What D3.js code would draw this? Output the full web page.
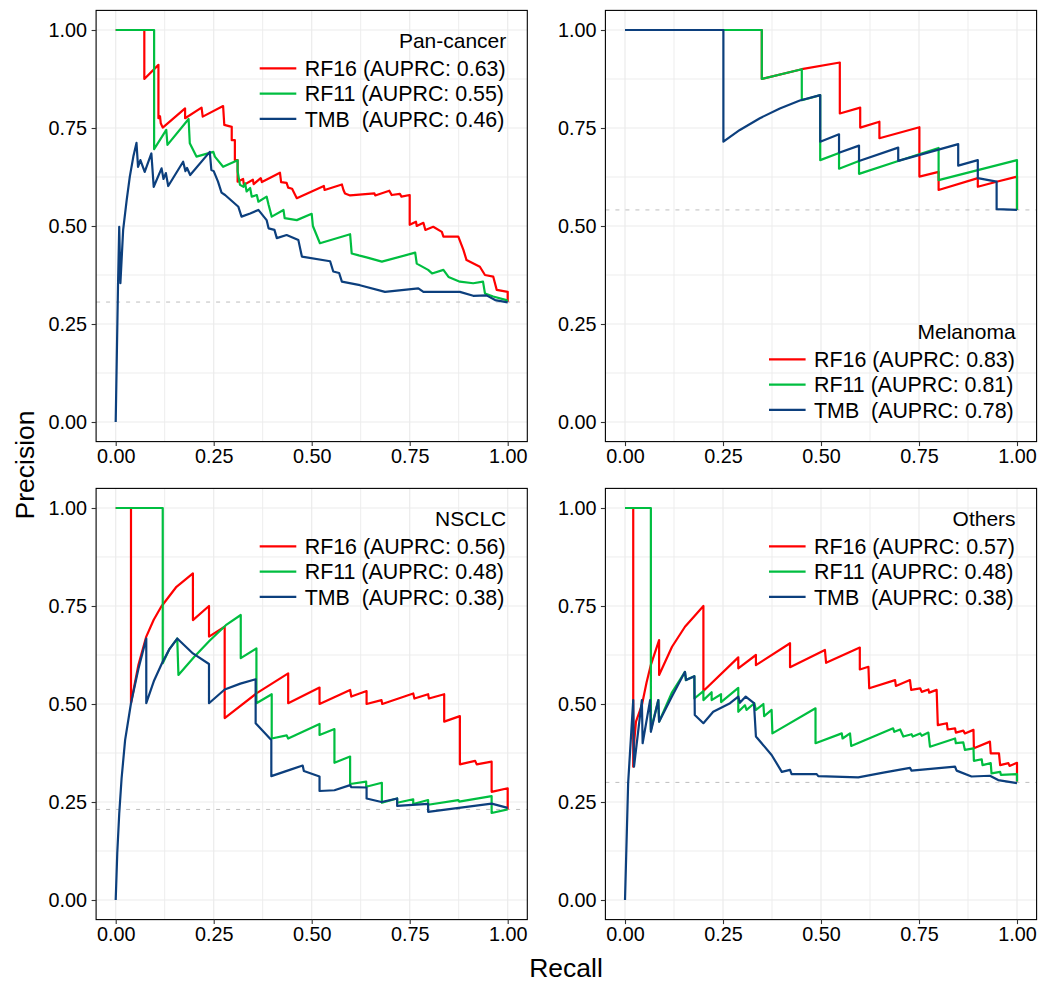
<!DOCTYPE html>
<html>
<head>
<meta charset="utf-8">
<script src="https://cdn.jsdelivr.net/npm/d3@7"></script>
<style>
body { margin: 0; background: #fff; }
svg text { font-family: "Liberation Sans", Arial, Helvetica, sans-serif; }
</style>
</head>
<body>
<div id="chart"></div>
<script>
// precision-recall curves, [recall, precision]

// Pan-cancer
var panCancerRF16 = [[0,1],[0.073,1],[0.073,0.875],[0.109,0.911],[0.109,0.775],[0.113,0.78],[0.115,0.762],[0.12,0.751],[0.177,0.80],[0.177,0.775],[0.219,0.802],[0.222,0.779],[0.274,0.806],[0.277,0.758],[0.296,0.753],[0.296,0.719],[0.304,0.719],[0.304,0.668],[0.311,0.668],[0.311,0.613],[0.325,0.62],[0.327,0.605],[0.35,0.618],[0.352,0.607],[0.37,0.622],[0.373,0.612],[0.419,0.636],[0.422,0.612],[0.436,0.61],[0.44,0.598],[0.45,0.595],[0.455,0.585],[0.462,0.571],[0.531,0.602],[0.533,0.592],[0.577,0.606],[0.581,0.592],[0.585,0.583],[0.598,0.578],[0.66,0.583],[0.662,0.578],[0.698,0.59],[0.704,0.579],[0.725,0.582],[0.729,0.575],[0.75,0.579],[0.75,0.503],[0.766,0.511],[0.768,0.50],[0.785,0.508],[0.79,0.49],[0.81,0.498],[0.832,0.485],[0.836,0.473],[0.874,0.473],[0.887,0.439],[0.895,0.413],[0.929,0.396],[0.942,0.375],[0.963,0.371],[0.972,0.337],[1,0.332],[1,0.307]];
var panCancerRF11 = [[0,1],[0.098,1],[0.098,0.696],[0.129,0.745],[0.132,0.707],[0.186,0.773],[0.189,0.711],[0.206,0.677],[0.249,0.689],[0.253,0.677],[0.274,0.651],[0.311,0.668],[0.311,0.64],[0.317,0.605],[0.326,0.6],[0.33,0.609],[0.334,0.588],[0.343,0.597],[0.347,0.575],[0.36,0.579],[0.364,0.562],[0.385,0.575],[0.39,0.554],[0.398,0.524],[0.428,0.541],[0.431,0.52],[0.462,0.515],[0.5,0.531],[0.503,0.50],[0.521,0.456],[0.598,0.479],[0.602,0.43],[0.62,0.425],[0.64,0.42],[0.679,0.409],[0.764,0.432],[0.768,0.404],[0.797,0.388],[0.807,0.379],[0.836,0.388],[0.849,0.37],[0.878,0.358],[0.912,0.354],[0.937,0.358],[0.942,0.328],[0.963,0.32],[0.997,0.311],[1,0.307]];
var panCancerTMB = [[0,0],[0.006,0.354],[0.009,0.498],[0.012,0.354],[0.019,0.49],[0.028,0.566],[0.036,0.626],[0.045,0.677],[0.053,0.712],[0.057,0.651],[0.063,0.668],[0.074,0.638],[0.091,0.685],[0.097,0.60],[0.117,0.647],[0.122,0.62],[0.128,0.635],[0.134,0.602],[0.172,0.664],[0.178,0.64],[0.182,0.648],[0.19,0.63],[0.24,0.689],[0.244,0.643],[0.25,0.64],[0.261,0.613],[0.27,0.585],[0.279,0.579],[0.313,0.549],[0.321,0.524],[0.343,0.532],[0.364,0.541],[0.385,0.515],[0.39,0.494],[0.405,0.49],[0.411,0.469],[0.436,0.477],[0.466,0.464],[0.475,0.422],[0.547,0.41],[0.555,0.384],[0.57,0.38],[0.577,0.358],[0.623,0.349],[0.687,0.332],[0.772,0.341],[0.785,0.332],[0.878,0.332],[0.912,0.322],[0.946,0.323],[0.968,0.311],[1,0.305]];
var panCancerAUPRC = ["0.63", "0.55", "0.46"];
var panCancerBaseline = 0.306;

// Melanoma
var melanomaRF16 = [[0,1],[0.349,1],[0.349,0.875],[0.451,0.9],[0.548,0.917],[0.548,0.787],[0.6,0.802],[0.6,0.751],[0.649,0.766],[0.649,0.724],[0.751,0.752],[0.751,0.626],[0.8,0.638],[0.8,0.592],[0.9,0.622],[0.9,0.6],[0.948,0.613],[1,0.626],[1,0.541]];
var melanomaRF11 = [[0,1],[0.349,1],[0.349,0.875],[0.451,0.9],[0.451,0.821],[0.47,0.826],[0.498,0.834],[0.498,0.668],[0.546,0.686],[0.546,0.646],[0.597,0.666],[0.597,0.633],[0.697,0.666],[0.8,0.699],[0.8,0.617],[1,0.668],[1,0.541]];
var melanomaTMB = [[0,1],[0.251,1],[0.251,0.715],[0.293,0.745],[0.344,0.775],[0.395,0.80],[0.446,0.82],[0.498,0.834],[0.498,0.715],[0.546,0.734],[0.546,0.687],[0.597,0.705],[0.597,0.666],[0.697,0.70],[0.697,0.666],[0.85,0.709],[0.85,0.654],[0.9,0.668],[0.9,0.622],[0.948,0.613],[0.948,0.543],[1,0.541]];
var melanomaAUPRC = ["0.83", "0.81", "0.78"];
var melanomaBaseline = 0.541;

// NSCLC
var nsclcRF16 = [[0,1],[0.039,1],[0.039,0.502],[0.058,0.60],[0.078,0.672],[0.097,0.715],[0.116,0.748],[0.155,0.799],[0.197,0.833],[0.197,0.714],[0.238,0.75],[0.238,0.672],[0.278,0.697],[0.278,0.464],[0.359,0.527],[0.44,0.578],[0.44,0.502],[0.52,0.542],[0.52,0.50],[0.598,0.536],[0.601,0.519],[0.64,0.533],[0.64,0.50],[0.678,0.51],[0.68,0.50],[0.759,0.527],[0.762,0.514],[0.797,0.525],[0.799,0.514],[0.838,0.525],[0.838,0.455],[0.878,0.469],[0.878,0.346],[0.917,0.355],[0.921,0.346],[0.959,0.353],[0.959,0.276],[1,0.285],[1,0.231]];
var nsclcRF11 = [[0,1],[0.12,1],[0.12,0.604],[0.137,0.64],[0.157,0.667],[0.16,0.574],[0.2,0.62],[0.24,0.662],[0.281,0.701],[0.319,0.727],[0.319,0.617],[0.359,0.642],[0.359,0.502],[0.398,0.525],[0.398,0.412],[0.436,0.42],[0.44,0.412],[0.52,0.449],[0.52,0.421],[0.558,0.436],[0.558,0.35],[0.598,0.366],[0.598,0.296],[0.639,0.302],[0.639,0.289],[0.679,0.299],[0.679,0.248],[0.718,0.259],[0.718,0.248],[0.759,0.257],[0.759,0.245],[0.797,0.255],[0.797,0.243],[0.874,0.255],[0.876,0.251],[0.959,0.265],[0.959,0.222],[1,0.231]];
var nsclcTMB = [[0,0],[0.004,0.12],[0.009,0.22],[0.015,0.31],[0.024,0.408],[0.039,0.502],[0.058,0.59],[0.078,0.667],[0.078,0.502],[0.098,0.56],[0.118,0.604],[0.137,0.64],[0.157,0.667],[0.197,0.629],[0.238,0.602],[0.238,0.502],[0.278,0.537],[0.318,0.552],[0.357,0.563],[0.357,0.451],[0.397,0.408],[0.397,0.316],[0.444,0.332],[0.477,0.343],[0.48,0.329],[0.52,0.315],[0.52,0.278],[0.558,0.28],[0.598,0.293],[0.601,0.288],[0.64,0.287],[0.64,0.259],[0.678,0.25],[0.718,0.259],[0.718,0.24],[0.797,0.245],[0.797,0.225],[0.959,0.246],[1,0.235]];
var nsclcAUPRC = ["0.56", "0.48", "0.38"];
var nsclcBaseline = 0.231;

// Others
var othersRF16 = [[0,1],[0.021,1],[0.021,0.34],[0.024,0.41],[0.028,0.455],[0.043,0.497],[0.055,0.555],[0.066,0.60],[0.087,0.663],[0.087,0.574],[0.12,0.646],[0.153,0.697],[0.178,0.725],[0.2,0.75],[0.2,0.533],[0.289,0.619],[0.289,0.591],[0.334,0.625],[0.334,0.599],[0.421,0.655],[0.421,0.594],[0.51,0.638],[0.513,0.605],[0.599,0.644],[0.599,0.588],[0.621,0.595],[0.623,0.54],[0.689,0.561],[0.691,0.546],[0.727,0.561],[0.73,0.536],[0.753,0.54],[0.757,0.531],[0.774,0.537],[0.776,0.529],[0.795,0.536],[0.798,0.446],[0.821,0.451],[0.823,0.435],[0.842,0.438],[0.844,0.427],[0.863,0.432],[0.867,0.425],[0.889,0.434],[0.89,0.387],[0.931,0.404],[0.933,0.374],[0.954,0.374],[0.957,0.344],[0.978,0.349],[0.981,0.342],[1,0.35],[1,0.302]];
var othersRF11 = [[0,1],[0.066,1],[0.066,0.434],[0.085,0.51],[0.087,0.455],[0.12,0.53],[0.153,0.582],[0.155,0.561],[0.177,0.571],[0.177,0.514],[0.2,0.533],[0.2,0.51],[0.221,0.53],[0.221,0.51],[0.245,0.525],[0.245,0.505],[0.289,0.541],[0.289,0.48],[0.306,0.497],[0.31,0.485],[0.33,0.502],[0.334,0.485],[0.353,0.50],[0.355,0.469],[0.374,0.485],[0.376,0.425],[0.486,0.489],[0.486,0.40],[0.553,0.425],[0.555,0.412],[0.574,0.425],[0.577,0.393],[0.684,0.438],[0.687,0.429],[0.702,0.435],[0.71,0.417],[0.731,0.423],[0.734,0.417],[0.753,0.425],[0.757,0.419],[0.774,0.427],[0.778,0.391],[0.842,0.412],[0.844,0.40],[0.863,0.402],[0.867,0.383],[0.889,0.387],[0.89,0.355],[0.91,0.359],[0.912,0.344],[0.933,0.349],[0.935,0.323],[0.957,0.327],[0.959,0.319],[1,0.321],[1,0.302]];
var othersTMB = [[0,0],[0.008,0.298],[0.021,0.51],[0.023,0.34],[0.043,0.51],[0.045,0.40],[0.064,0.51],[0.066,0.429],[0.085,0.51],[0.087,0.455],[0.12,0.52],[0.153,0.582],[0.156,0.561],[0.177,0.571],[0.178,0.472],[0.2,0.451],[0.225,0.48],[0.268,0.502],[0.289,0.519],[0.293,0.503],[0.308,0.519],[0.329,0.502],[0.334,0.417],[0.374,0.37],[0.40,0.327],[0.421,0.332],[0.425,0.321],[0.489,0.321],[0.493,0.316],[0.595,0.313],[0.659,0.325],[0.727,0.337],[0.731,0.33],[0.842,0.34],[0.846,0.33],[0.884,0.315],[0.931,0.317],[0.952,0.306],[1,0.298]];
var othersAUPRC = ["0.57", "0.48", "0.38"];
var othersBaseline = 0.30;

var seriesNames = ["RF16", "RF11", "TMB "];
var seriesColors = ["#FF0000", "#00BE40", "#0C3F7D"];
var tickValues = [0, 0.25, 0.5, 0.75, 1];
var minorValues = [0.125, 0.375, 0.625, 0.875];

var panels = [
    {title: "Pan-cancer", series: [panCancerRF16, panCancerRF11, panCancerTMB], auprc: panCancerAUPRC, baseline: panCancerBaseline, legend: "top", x: 96.1, y: 10.4},
    {title: "Melanoma", series: [melanomaRF16, melanomaRF11, melanomaTMB], auprc: melanomaAUPRC, baseline: melanomaBaseline, legend: "bottom", x: 605.4, y: 10.4},
    {title: "NSCLC", series: [nsclcRF16, nsclcRF11, nsclcTMB], auprc: nsclcAUPRC, baseline: nsclcBaseline, legend: "top", x: 96.1, y: 488.4},
    {title: "Others", series: [othersRF16, othersRF11, othersTMB], auprc: othersAUPRC, baseline: othersBaseline, legend: "top", x: 605.4, y: 488.4}
];

var svgWidth = 1043;
var svgHeight = 983;
var panelSize = 431.2;

var svg = d3.select("#chart").append("svg")
    .attr("width", svgWidth)
    .attr("height", svgHeight)
    .style("display", "block");

svg.append("rect").attr("width", svgWidth).attr("height", svgHeight).attr("fill", "#fff");

// ggplot style: 5% expansion on both sides
var xScale = d3.scaleLinear().domain([-0.05, 1.05]).range([0, panelSize]);
var yScale = d3.scaleLinear().domain([-0.05, 1.05]).range([panelSize, 0]);

var line = d3.line()
    .x(d => xScale(d[0]))
    .y(d => yScale(d[1]));

panels.forEach(function(p) {
    var g = svg.append("g").attr("transform", `translate(${p.x}, ${p.y})`);

    // grid lines
    g.selectAll(".vminor").data(minorValues).enter().append("line")
        .attr("x1", d => xScale(d)).attr("x2", d => xScale(d))
        .attr("y1", 0).attr("y2", panelSize)
        .attr("stroke", "#EBEBEB").attr("stroke-width", 0.9);
    g.selectAll(".hminor").data(minorValues).enter().append("line")
        .attr("y1", d => yScale(d)).attr("y2", d => yScale(d))
        .attr("x1", 0).attr("x2", panelSize)
        .attr("stroke", "#EBEBEB").attr("stroke-width", 0.9);
    g.selectAll(".vmajor").data(tickValues).enter().append("line")
        .attr("x1", d => xScale(d)).attr("x2", d => xScale(d))
        .attr("y1", 0).attr("y2", panelSize)
        .attr("stroke", "#EBEBEB").attr("stroke-width", 1.2);
    g.selectAll(".hmajor").data(tickValues).enter().append("line")
        .attr("y1", d => yScale(d)).attr("y2", d => yScale(d))
        .attr("x1", 0).attr("x2", panelSize)
        .attr("stroke", "#EBEBEB").attr("stroke-width", 1.2);

    // no-skill baseline
    g.append("line")
        .attr("x1", 0).attr("x2", panelSize)
        .attr("y1", yScale(p.baseline)).attr("y2", yScale(p.baseline))
        .attr("stroke", "#BDBDBD").attr("stroke-width", 1)
        .attr("stroke-dasharray", "4,6");

    // curves: RF16, RF11 then TMB on top
    p.series.forEach(function(s, i) {
        g.append("path")
            .datum(s)
            .attr("d", line)
            .attr("fill", "none")
            .attr("stroke", seriesColors[i])
            .attr("stroke-width", 2.2)
            .attr("stroke-linejoin", "round");
    });

    // panel border
    g.append("rect")
        .attr("width", panelSize).attr("height", panelSize)
        .attr("fill", "none").attr("stroke", "#000").attr("stroke-width", 1.1);

    // axes
    var xAxis = d3.axisBottom(xScale).tickValues(tickValues).tickFormat(d3.format(".2f")).tickSize(4.5).tickPadding(3);
    var yAxis = d3.axisLeft(yScale).tickValues(tickValues).tickFormat(d3.format(".2f")).tickSize(4.5).tickPadding(4.5);

    var xg = g.append("g").attr("transform", `translate(0, ${panelSize})`).call(xAxis);
    var yg = g.append("g").call(yAxis);
    [xg, yg].forEach(function(a) {
        a.select(".domain").remove();
        a.selectAll(".tick line").attr("stroke", "#333").attr("stroke-width", 1.1);
        a.selectAll(".tick text")
            .attr("fill", "#000")
            .style("font-size", "19.8px")
            .style("font-family", '"Liberation Sans", Arial, sans-serif');
    });

    // legend inside the panel
    var firstRow = p.legend == "top" ? 57.9 : 348.9;
    var lg = g.append("g");
    lg.append("text")
        .attr("x", panelSize - 21)
        .attr("y", firstRow - 20.3)
        .attr("text-anchor", "end")
        .style("font-size", "21px")
        .text(p.title);
    seriesNames.forEach(function(name, i) {
        var cy = firstRow + i * 25.3;
        lg.append("line")
            .attr("x1", panelSize - 267.6).attr("x2", panelSize - 231)
            .attr("y1", cy).attr("y2", cy)
            .attr("stroke", seriesColors[i]).attr("stroke-width", 2.2);
        lg.append("text")
            .attr("x", panelSize - 222.6)
            .attr("y", cy)
            .attr("dy", "0.36em")
            .style("font-size", "21.4px")
            .style("white-space", "pre")
            .text(name + " (AUPRC: " + p.auprc[i] + ")");
    });
});

// axis titles
svg.append("text")
    .attr("transform", "translate(33.5, 465) rotate(-90)")
    .attr("text-anchor", "middle")
    .style("font-size", "26.5px")
    .text("Precision");

svg.append("text")
    .attr("x", 566)
    .attr("y", 977)
    .attr("text-anchor", "middle")
    .style("font-size", "26.5px")
    .text("Recall");
</script>
</body>
</html>
